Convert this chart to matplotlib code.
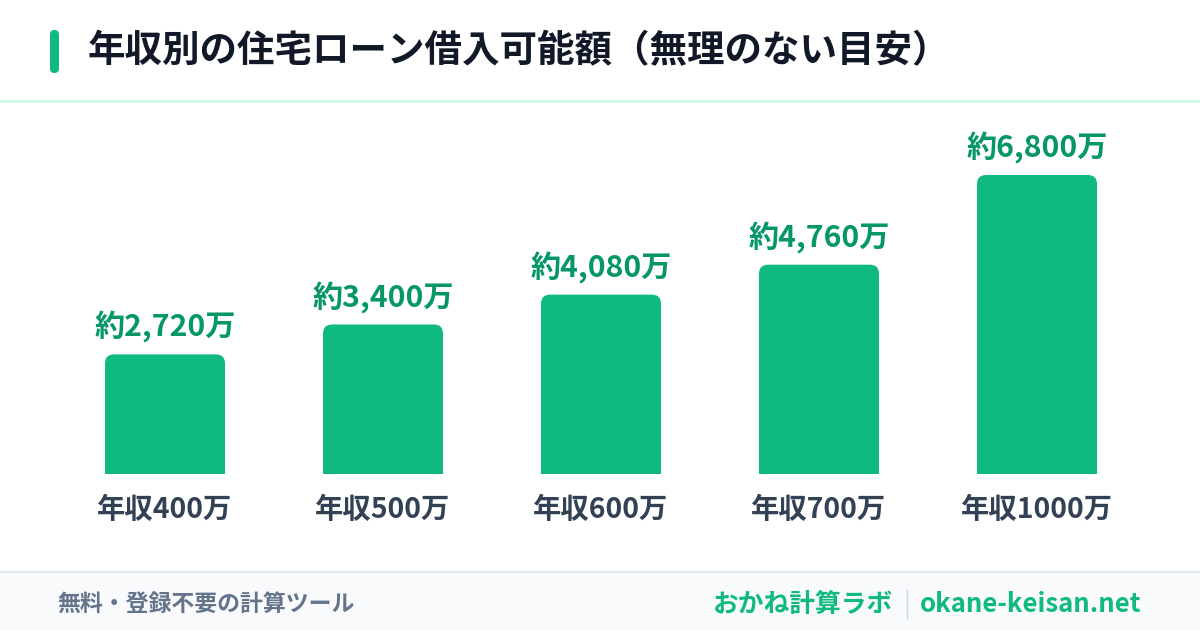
import matplotlib.pyplot as plt
from matplotlib.patches import FancyBboxPatch, Rectangle

plt.rcParams['font.family'] = ['Noto Sans CJK JP', 'DejaVu Sans']

title = "年収別の住宅ローン借入可能額（無理のない目安）"
categories = ["年収400万", "年収500万", "年収600万", "年収700万", "年収1000万"]
values = [2720, 3400, 4080, 4760, 6800]
value_labels = ["約2,720万", "約3,400万", "約4,080万", "約4,760万", "約6,800万"]
footer_left = "無料・登録不要の計算ツール"
footer_site = "おかね計算ラボ"
footer_url = "okane-keisan.net"

GREEN = "#10b981"
DARK_GREEN = "#059669"
W, H = 1200, 630

fig = plt.figure(figsize=(12, 6.3), dpi=100)
fig.patch.set_facecolor("white")

# background / layout layer in pixel coords (y from top)
bg = fig.add_axes([0, 0, 1, 1])
bg.set_xlim(0, W)
bg.set_ylim(H, 0)
bg.axis("off")

bg.add_patch(FancyBboxPatch((50, 30), 9, 43, boxstyle="round,pad=0,rounding_size=4.5",
                            fc=GREEN, ec="none"))
bg.text(88, 51, title, fontsize=27, fontweight="bold", color="#111827", va="center", ha="left")
bg.add_patch(Rectangle((0, 100), W, 3, fc="#d1fae5", ec="none"))

bg.add_patch(Rectangle((0, 572), W, 58, fc="#f8fafc", ec="none"))
bg.add_patch(Rectangle((0, 571), W, 2, fc="#e2e8f0", ec="none"))
bg.text(57, 604, footer_left, fontsize=16.5, fontweight="bold", color="#64748b", va="center")
bg.text(1141, 604, footer_url, fontsize=18.5, fontweight="bold", color=GREEN,
        va="center", ha="right")
bg.plot([907, 907], [590, 618], color="#cbd5e1", lw=1)
bg.text(893, 604, footer_site, fontsize=18.5, fontweight="bold", color=GREEN,
        va="center", ha="right")

# chart layer
px_per_unit_x = 218
y_scale = 6800 / 299  # value units per pixel
left_px = 165 - 0.5 * px_per_unit_x
right_px = 165 + 4.5 * px_per_unit_x
top_px, bottom_px = 120, 474
ax = fig.add_axes([left_px / W, 1 - bottom_px / H, (right_px - left_px) / W,
                   (bottom_px - top_px) / H])
ax.set_xlim(-0.5, 4.5)
ax.set_ylim(0, (bottom_px - top_px) * y_scale)
ax.axis("off")

bar_w = 120 / px_per_unit_x
radius = 9 / px_per_unit_x
aspect = y_scale * px_per_unit_x
for i, (v, lab, cat) in enumerate(zip(values, value_labels, categories)):
    p = FancyBboxPatch((i - bar_w / 2, -20 * y_scale), bar_w, v + 20 * y_scale,
                       boxstyle=f"round,pad=0,rounding_size={radius}",
                       mutation_aspect=aspect, fc=GREEN, ec="none", clip_on=True)
    ax.add_patch(p)
    ax.annotate(lab, (i, v), xytext=(0, 11), textcoords="offset pixels",
                ha="center", va="bottom", fontsize=21.7, fontweight="bold", color=DARK_GREEN)
    ax.annotate(cat, (i, 0), xytext=(0, -36), textcoords="offset pixels",
                ha="center", va="center", fontsize=20.4, fontweight="bold", color="#334155",
                annotation_clip=False)

fig.savefig("out.png", dpi=100)
